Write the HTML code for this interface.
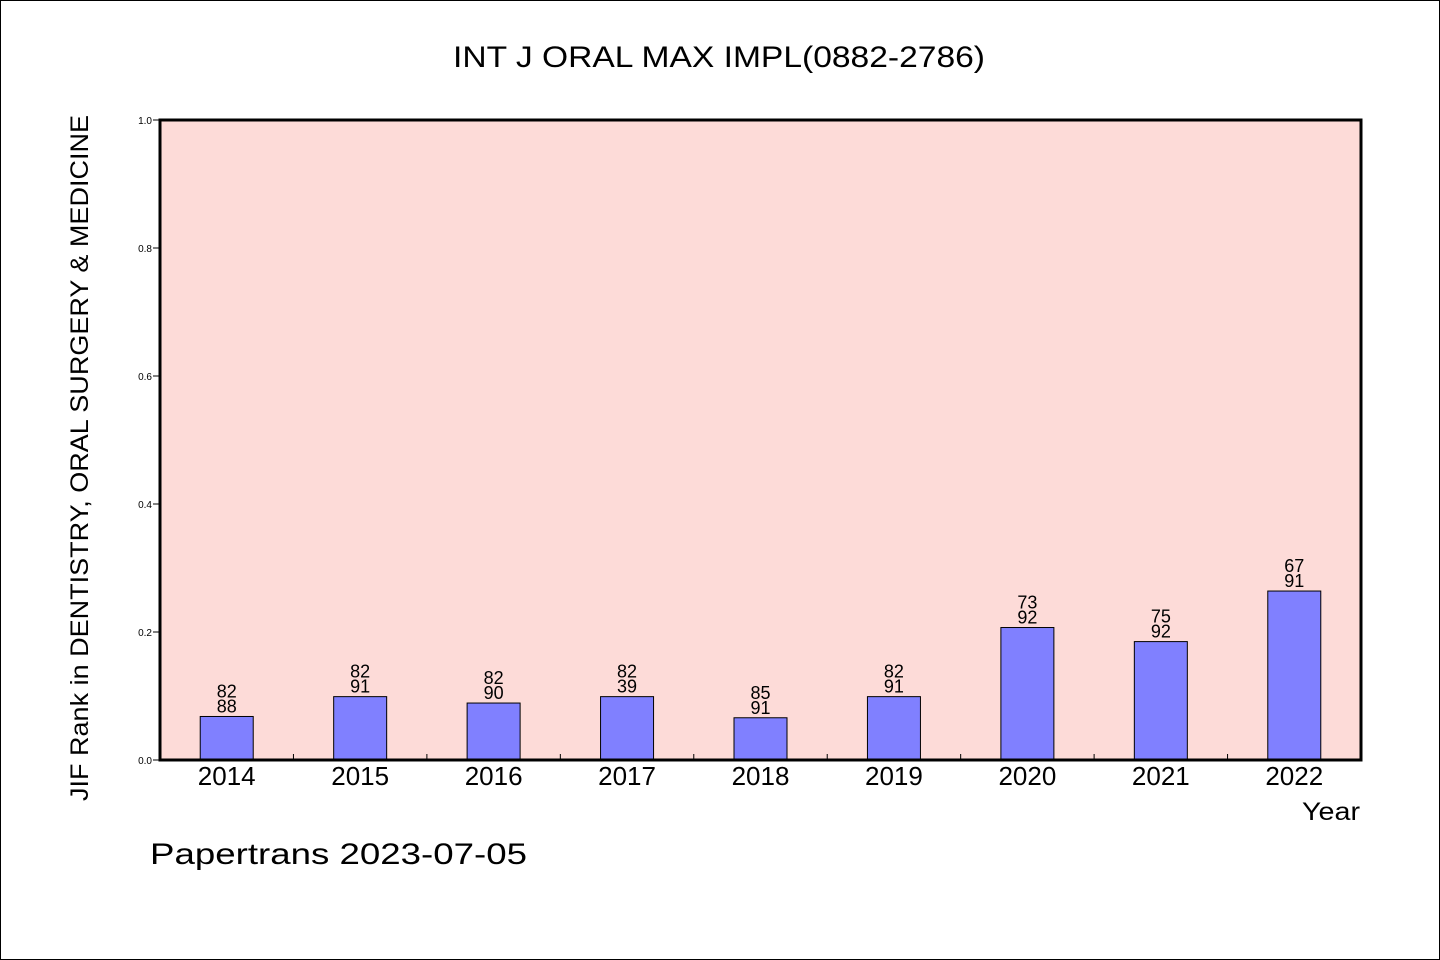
<!DOCTYPE html>
<html><head><meta charset="utf-8"><style>
html,body{margin:0;padding:0;background:#fff}
svg{display:block}
text{font-family:"Liberation Sans","WenQuanYi Zen Hei",sans-serif;fill:#000}
</style></head><body>
<svg id="chart" width="1440" height="960" viewBox="0 0 1440 960" xmlns="http://www.w3.org/2000/svg">
<rect x="0.5" y="0.5" width="1439" height="959" fill="#fff" stroke="#000" stroke-width="1"/>
<text x="719" y="67" font-size="30" text-anchor="middle" textLength="532" lengthAdjust="spacingAndGlyphs">INT J ORAL MAX IMPL(0882-2786)</text>
<rect x="160" y="120" width="1201" height="640" fill="#fddbd8"/>
<g id="ticks"></g>
<g id="bars"></g>
<rect x="160" y="120" width="1201" height="640" fill="none" stroke="#000" stroke-width="3"/>
<text x="88" y="458" font-size="25" text-anchor="middle" transform="rotate(-90 88 458)" textLength="686" lengthAdjust="spacingAndGlyphs">JIF Rank in DENTISTRY, ORAL SURGERY &amp; MEDICINE</text>
<text x="1360" y="820" font-size="25" text-anchor="end" textLength="58" lengthAdjust="spacingAndGlyphs">Year</text>
<text x="150" y="864" font-size="30" textLength="377" lengthAdjust="spacingAndGlyphs">Papertrans 2023-07-05</text>
</svg>
<script>
const years = ["2014","2015","2016","2017","2018","2019","2020","2021","2022"];
const ranks = [82,82,82,82,85,82,73,75,67];
const totals = [88,91,90,39,91,91,92,92,91];
const values = [0.068,0.099,0.089,0.099,0.066,0.099,0.207,0.185,0.264];
const yTicks = [0,0.2,0.4,0.6,0.8,1.0];
const yTickLabels = ["0.0","0.2","0.4","0.6","0.8","1.0"];

const NS="http://www.w3.org/2000/svg";
const X0=160,X1=1361,Y0=760,Y1=120;
const band=(X1-X0)/years.length;
const xC=i=>X0+band*(i+0.5);
const yS=v=>Y0-(v-0)*(Y0-Y1)/1.0;
function mk(tag,attrs,parent){const e=document.createElementNS(NS,tag);for(const k in attrs)e.setAttribute(k,attrs[k]);parent.appendChild(e);return e;}
const tg=document.getElementById('ticks'), bg=document.getElementById('bars');
yTicks.forEach((t,i)=>{
  const l=mk('line',{x1:X0-7,x2:X0,y1:yS(t),y2:yS(t),stroke:'#000','stroke-width':1},tg);
  
  
  const tx=mk('text',{x:X0-8,y:yS(t)+4,'font-size':10,'text-anchor':'end'},tg);
  tx.textContent=yTickLabels[i];
  
  
});
for(let i=1;i<years.length;i++){
  const x=X0+band*i;
  const l=mk('line',{x1:x,x2:x,y1:Y0,y2:Y0-6,stroke:'#000','stroke-width':1},tg);
  
  
}
years.forEach((y,i)=>{
  const c=xC(i), top=yS(values[i]);
  const r=mk('rect',{x:c-26.5,y:top,width:53,height:Y0-top,fill:'#8080ff',stroke:'#000','stroke-width':1},bg);
  
  
  const a=mk('text',{x:c,y:top-19,'font-size':18,'text-anchor':'middle'},bg);
  a.textContent=ranks[i];
  
  
  const b=mk('text',{x:c,y:top-4,'font-size':18,'text-anchor':'middle'},bg);
  b.textContent=totals[i];
  
  
  const xl=mk('text',{x:c,y:785,'font-size':26,'text-anchor':'middle'},bg);
  xl.textContent=y;
  
  
});
</script>
</body></html>
